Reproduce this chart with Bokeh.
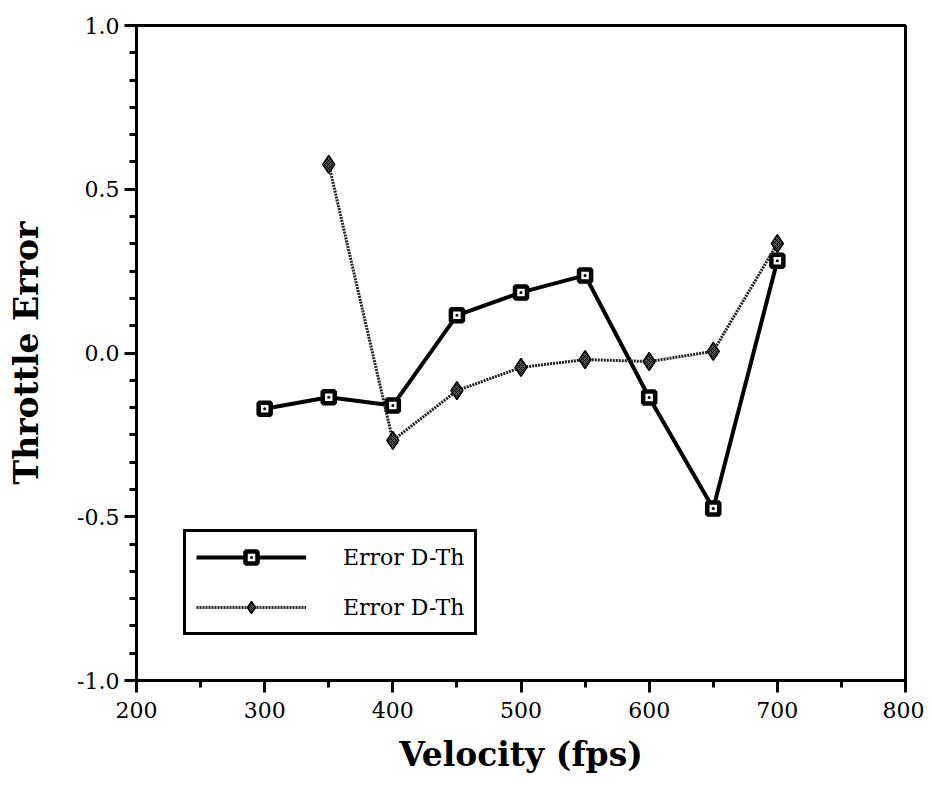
from bokeh.plotting import figure
from bokeh.models import Range1d, SingleIntervalTicker, Legend, LegendItem, CustomJSTickFormatter
from bokeh.embed import file_html
from bokeh.resources import INLINE

# Data
vel_a = [300, 350, 400, 450, 500, 550, 600, 650, 700]
err_a = [-0.17, -0.135, -0.16, 0.115, 0.185, 0.237, -0.136, -0.475, 0.282]
vel_b = [350, 400, 450, 500, 550, 600, 650, 700]
err_b = [0.576, -0.267, -0.115, -0.044, -0.02, -0.026, 0.005, 0.334]
label_a = "Error D-Th"
label_b = "Error D-Th"

FONT = "DejaVu Serif"

p = figure(width=924, height=784, output_backend="svg", toolbar_location=None,
           x_range=Range1d(200, 800), y_range=Range1d(-1.0, 1.0),
           min_border_left=136, min_border_right=19, min_border_top=25,
           min_border_bottom=104)

p.xgrid.visible = False
p.ygrid.visible = False
p.outline_line_color = "black"
p.outline_line_width = 3
p.outline_line_alpha = 1.0
p.background_fill_color = "white"
p.border_fill_color = "white"

p.xaxis.ticker = SingleIntervalTicker(interval=100, num_minor_ticks=2)
p.yaxis.ticker = SingleIntervalTicker(interval=0.5, num_minor_ticks=6)
p.yaxis.formatter = CustomJSTickFormatter(code="return tick.toFixed(1);")

for ax in (p.xaxis[0], p.yaxis[0]):
    ax.axis_line_width = 3
    ax.axis_line_color = "black"
    ax.major_tick_line_width = 3
    ax.minor_tick_line_width = 3
    ax.major_tick_line_color = "black"
    ax.minor_tick_line_color = "black"
    ax.major_tick_in = 0
    ax.minor_tick_in = 0
    ax.major_tick_out = 12
    ax.minor_tick_out = 7
    ax.major_label_text_font = FONT
    ax.major_label_text_font_size = "22px"
    ax.major_label_text_color = "black"
    ax.axis_label_text_font = FONT
    ax.axis_label_text_font_style = "bold"
    ax.axis_label_text_font_size = "33px"
    ax.axis_label_text_color = "black"

p.xaxis.axis_label = "Velocity (fps)"
p.yaxis.axis_label = "Throttle Error"
p.xaxis.major_label_standoff = 9
p.yaxis.major_label_standoff = 5
p.xaxis.axis_label_standoff = 14
p.yaxis.axis_label_standoff = 28

# Series A: thick solid line with square markers
la = p.line(vel_a, err_a, line_color="black", line_width=4)
ma = p.scatter(vel_a, err_a, marker="square_dot", size=12, line_color="black",
               line_width=4.5, fill_color="white")

# Series B: textured dark line with hatched diamond markers
lb = p.line(vel_b, err_b, line_color="#222222", line_width=3, line_dash="2 1")
mb = p.scatter(vel_b, err_b, marker="diamond", size=18, line_color="black",
               line_width=1.5, fill_color="#555555", hatch_pattern="x",
               hatch_color="black", hatch_scale=4, hatch_weight=1)

legend = Legend(items=[LegendItem(label=label_a, renderers=[la, ma]),
                       LegendItem(label=label_b, renderers=[lb, mb])],
                location=(47, 45), margin=0, padding=10, spacing=20,
                glyph_width=110, glyph_height=30, label_height=30,
                label_standoff=37, border_line_color="black",
                border_line_width=3, border_line_alpha=1.0,
                background_fill_color="white", background_fill_alpha=1.0,
                label_text_font=FONT, label_text_font_size="22px",
                label_text_color="black")
p.add_layout(legend, "center")

open("out.html", "w").write(file_html(p, INLINE))
